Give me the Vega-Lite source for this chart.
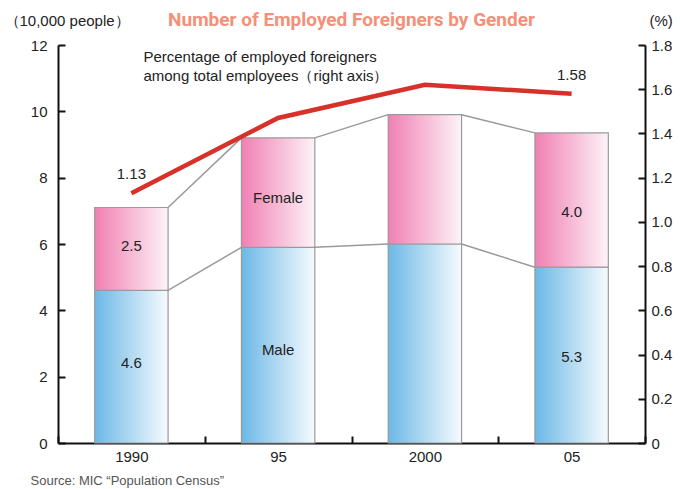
{
  "$schema": "https://vega.github.io/schema/vega-lite/v6.json",
  "autosize": "none",
  "width": 587,
  "height": 398,
  "padding": {"left": 58, "top": 45, "right": 35, "bottom": 46},
  "background": "white",
  "config": {
    "view": {"stroke": null},
    "font": "Liberation Sans",
    "axis": {"labelFont": "Liberation Sans", "titleFont": "Liberation Sans"}
  },
  "title": {
    "text": "Number of Employed Foreigners by Gender",
    "font": "Roboto",
    "fontSize": 19,
    "fontWeight": "bold",
    "color": "#f4907a",
    "anchor": "middle",
    "offset": -17
  },
  "datasets": {
    "census": [
      {"year": "1990", "male": 4.6, "female": 2.5, "total": 7.1, "pct": 1.13},
      {"year": "95", "male": 5.9, "female": 3.3, "total": 9.2, "pct": 1.47},
      {"year": "2000", "male": 6.0, "female": 3.9, "total": 9.9, "pct": 1.62},
      {"year": "05", "male": 5.3, "female": 4.0, "total": 9.35, "pct": 1.58}
    ],
    "links": [
      {"from": "1990", "to": "95", "a": 4.6, "b": 5.9},
      {"from": "95", "to": "2000", "a": 5.9, "b": 6.0},
      {"from": "2000", "to": "05", "a": 6.0, "b": 5.3},
      {"from": "1990", "to": "95", "a": 7.1, "b": 9.2},
      {"from": "95", "to": "2000", "a": 9.2, "b": 9.9},
      {"from": "2000", "to": "05", "a": 9.9, "b": 9.35}
    ],
    "labels": [
      {"year": "1990", "label": "2.5", "at": 5.95},
      {"year": "1990", "label": "4.6", "at": 2.4},
      {"year": "95", "label": "Female", "at": 7.4},
      {"year": "95", "label": "Male", "at": 2.8},
      {"year": "05", "label": "4.0", "at": 6.95},
      {"year": "05", "label": "5.3", "at": 2.6}
    ]
  },
  "resolve": {"scale": {"y": "independent"}},
  "layer": [
    {
      "layer": [
        {
          "data": {"name": "census"},
          "mark": {
            "type": "bar",
            "width": {"band": 0.5},
            "stroke": "#9a9a9a",
            "strokeWidth": 1.2,
            "fill": {
              "gradient": "linear", "x1": 0, "x2": 1, "y1": 0, "y2": 0,
              "stops": [{"offset": 0, "color": "#6cb8e6"}, {"offset": 1, "color": "#f6fbfe"}]
            }
          },
          "encoding": {
            "x": {
              "field": "year", "type": "nominal", "sort": null,
              "scale": {"paddingInner": 0, "paddingOuter": 0},
              "axis": {
                "title": "Source: MIC \u201cPopulation Census\u201d",
                "titleX": -28, "titleY": 37, "titleAlign": "left", "titleBaseline": "middle",
                "titleFontSize": 13, "titleFontWeight": "normal", "titleColor": "#555555",
                "labelAngle": 0, "labelFontSize": 15, "labelColor": "#222222", "labelPadding": 13,
                "tickBand": "extent", "tickSize": -7, "tickWidth": 2, "tickColor": "#111111",
                "domainColor": "#111111", "domainWidth": 2
              }
            },
            "y": {
              "field": "male", "type": "quantitative",
              "scale": {"domain": [0, 12], "nice": false},
              "axis": {
                "title": "\uff0810,000 people\uff09",
                "titleAngle": 0, "titleX": -54, "titleY": -25, "titleAlign": "left", "titleBaseline": "middle",
                "titleFontSize": 15, "titleFontWeight": "normal", "titleColor": "#222222",
                "values": [0, 2, 4, 6, 8, 10, 12],
                "labelFontSize": 15, "labelColor": "#222222", "labelPadding": 18,
                "tickSize": -7, "tickWidth": 2, "tickColor": "#111111",
                "domainColor": "#111111", "domainWidth": 2, "grid": false
              }
            }
          }
        },
        {
          "data": {"name": "census"},
          "mark": {
            "type": "bar",
            "width": {"band": 0.5},
            "stroke": "#9a9a9a",
            "strokeWidth": 1.2,
            "fill": {
              "gradient": "linear", "x1": 0, "x2": 1, "y1": 0, "y2": 0,
              "stops": [{"offset": 0, "color": "#f080b2"}, {"offset": 1, "color": "#fdf3f8"}]
            }
          },
          "encoding": {
            "x": {"field": "year", "type": "nominal", "sort": null},
            "y": {"field": "total", "type": "quantitative"},
            "y2": {"field": "male"}
          }
        },
        {
          "data": {"name": "links"},
          "mark": {"type": "rule", "color": "#9a9a9a", "strokeWidth": 1.5, "xOffset": 36.7, "x2Offset": -36.7},
          "encoding": {
            "x": {"field": "from", "type": "nominal", "sort": null},
            "x2": {"field": "to"},
            "y": {"field": "a", "type": "quantitative"},
            "y2": {"field": "b"}
          }
        },
        {
          "data": {"name": "labels"},
          "mark": {"type": "text", "fontSize": 15, "color": "#222222", "baseline": "middle", "align": "center"},
          "encoding": {
            "x": {"field": "year", "type": "nominal", "sort": null},
            "y": {"field": "at", "type": "quantitative"},
            "text": {"field": "label"}
          }
        },
        {
          "data": {"values": [{"note": ["Percentage of employed foreigners", "among total employees\uff08right axis\uff09"], "year": "1990", "at": 11.85}]},
          "mark": {"type": "text", "fontSize": 15, "color": "#222222", "baseline": "top", "align": "left", "lineHeight": 19, "dx": 12},
          "encoding": {
            "x": {"field": "year", "type": "nominal", "sort": null},
            "y": {"field": "at", "type": "quantitative"},
            "text": {"field": "note"}
          }
        }
      ]
    },
    {
      "layer": [
        {
          "data": {"name": "census"},
          "mark": {"type": "line", "color": "#d7312a", "strokeWidth": 4.5},
          "encoding": {
            "x": {"field": "year", "type": "nominal", "sort": null},
            "y": {
              "field": "pct", "type": "quantitative",
              "scale": {"domain": [0, 1.8], "nice": false},
              "axis": {
                "orient": "right",
                "title": "(%)",
                "titleAngle": 0, "titleX": 4, "titleY": -25, "titleAlign": "left", "titleBaseline": "middle",
                "titleFontSize": 15, "titleFontWeight": "normal", "titleColor": "#222222",
                "values": [0, 0.2, 0.4, 0.6, 0.8, 1.0, 1.2, 1.4, 1.6, 1.8],
                "labelExpr": "datum.value == 0 ? '0' : format(datum.value, '.1f')",
                "labelFontSize": 15, "labelColor": "#222222", "labelPadding": 13,
                "tickSize": -7, "tickWidth": 2, "tickColor": "#111111",
                "domainColor": "#111111", "domainWidth": 2, "grid": false
              }
            }
          }
        },
        {
          "data": {"name": "census"},
          "transform": [{"filter": "datum.year == '1990' || datum.year == '05'"}],
          "mark": {"type": "text", "fontSize": 15, "color": "#222222", "baseline": "middle", "align": "center", "dy": -19},
          "encoding": {
            "x": {"field": "year", "type": "nominal", "sort": null},
            "y": {"field": "pct", "type": "quantitative"},
            "text": {"field": "pct", "format": ".2f"}
          }
        }
      ]
    }
  ]
}
